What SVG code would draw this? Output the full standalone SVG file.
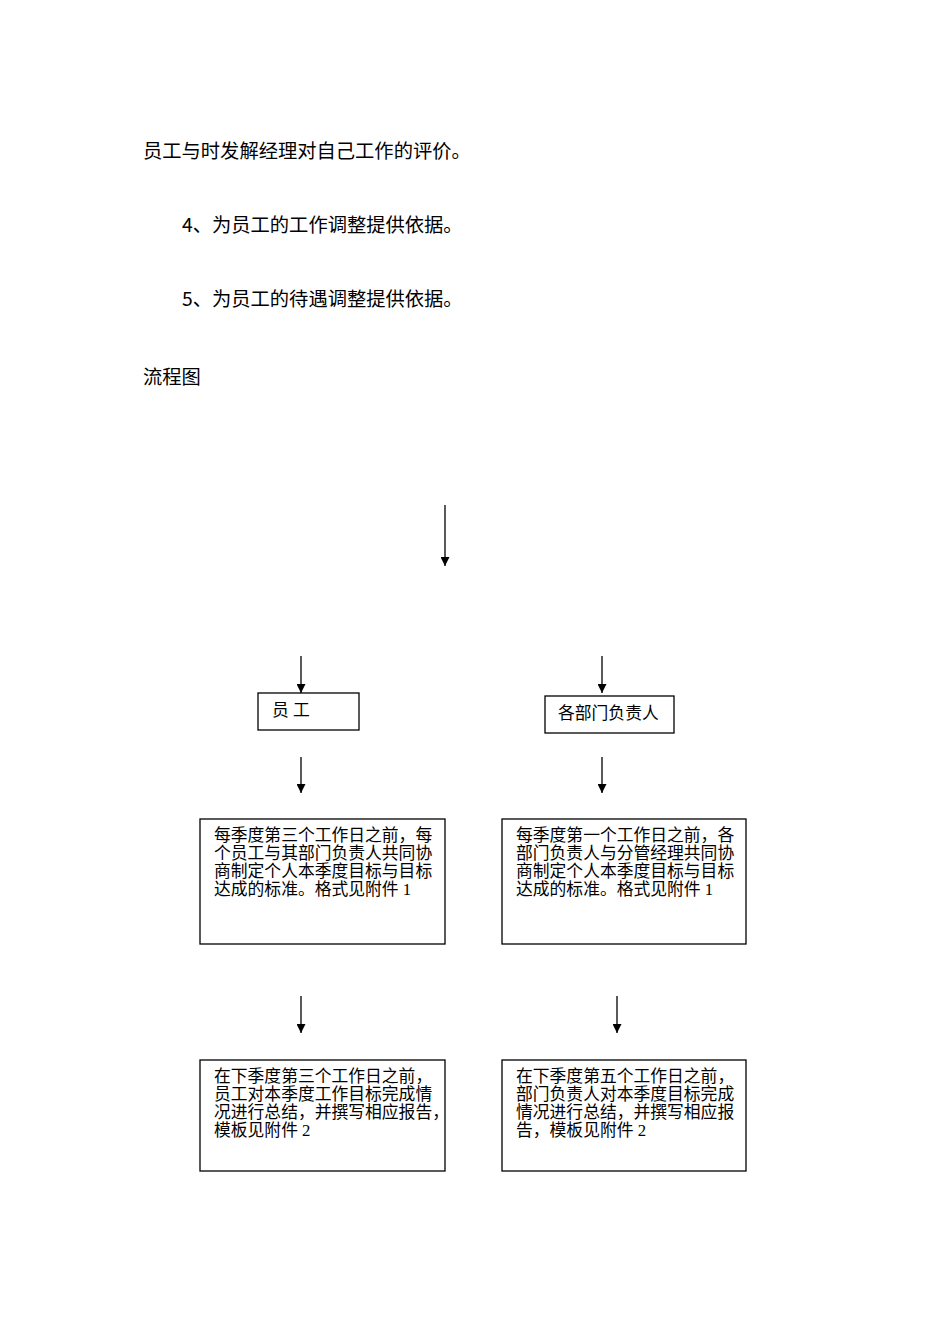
<svg xmlns="http://www.w3.org/2000/svg" width="950" height="1344" viewBox="0 0 950 1344">
<style>
.h{font-family:"Noto Sans CJK SC","Liberation Sans",sans-serif;font-size:19.3px;fill:#000}
.t{font-family:"Liberation Serif","Noto Sans CJK SC",serif;font-size:16.8px;fill:#000}
.b{fill:#fff;stroke:#000;stroke-width:1.3}
.c line{stroke:#000;stroke-width:1.3}
</style>
<defs><marker id="a" viewBox="0 0 10 10" refX="10" refY="5" markerWidth="9" markerHeight="9" markerUnits="userSpaceOnUse" orient="auto"><path d="M0,0L10,5L0,10z" fill="#000"/></marker></defs>
<rect width="950" height="1344" fill="#fff"/>
<text class="h" x="143" y="158">员工与时发解经理对自己工作的评价。</text>
<text class="h" x="182" y="232">4、为员工的工作调整提供依据。</text>
<text class="h" x="182" y="306">5、为员工的待遇调整提供依据。</text>
<text class="h" x="143" y="384">流程图</text>
<g class="c">
<line x1="445" y1="505" x2="445" y2="566" marker-end="url(#a)"/>
<line x1="301" y1="656" x2="301" y2="693" marker-end="url(#a)"/>
<line x1="602" y1="656" x2="602" y2="693" marker-end="url(#a)"/>
<line x1="301" y1="757" x2="301" y2="793" marker-end="url(#a)"/>
<line x1="602" y1="757" x2="602" y2="793" marker-end="url(#a)"/>
<line x1="301" y1="996" x2="301" y2="1033" marker-end="url(#a)"/>
<line x1="617" y1="996" x2="617" y2="1033" marker-end="url(#a)"/>
</g>
<g id="n1"><rect class="b" x="258" y="693" width="101" height="37"/><text class="t" x="272" y="716">员  工</text></g>
<g id="n2"><rect class="b" x="545" y="696" width="129" height="37"/><text class="t" x="558" y="719">各部门负责人</text></g>
<g id="n3"><rect class="b" x="200" y="819" width="245" height="125"/><text class="t" x="214" y="841">每季度第三个工作日之前，每<tspan x="214" dy="18">个员工与其部门负责人共同协</tspan><tspan x="214" dy="18">商制定个人本季度目标与目标</tspan><tspan x="214" dy="18">达成的标准。格式见附件 1</tspan></text></g>
<g id="n4"><rect class="b" x="502" y="819" width="244" height="125"/><text class="t" x="516" y="841">每季度第一个工作日之前，各<tspan x="516" dy="18">部门负责人与分管经理共同协</tspan><tspan x="516" dy="18">商制定个人本季度目标与目标</tspan><tspan x="516" dy="18">达成的标准。格式见附件 1</tspan></text></g>
<g id="n5"><rect class="b" x="200" y="1060" width="245" height="111"/><text class="t" x="214" y="1082">在下季度第三个工作日之前，<tspan x="214" dy="18">员工对本季度工作目标完成情</tspan><tspan x="214" dy="18">况进行总结，并撰写相应报告，</tspan><tspan x="214" dy="18">模板见附件 2</tspan></text></g>
<g id="n6"><rect class="b" x="502" y="1060" width="244" height="111"/><text class="t" x="516" y="1082">在下季度第五个工作日之前，<tspan x="516" dy="18">部门负责人对本季度目标完成</tspan><tspan x="516" dy="18">情况进行总结，并撰写相应报</tspan><tspan x="516" dy="18">告，模板见附件 2</tspan></text></g>
</svg>
